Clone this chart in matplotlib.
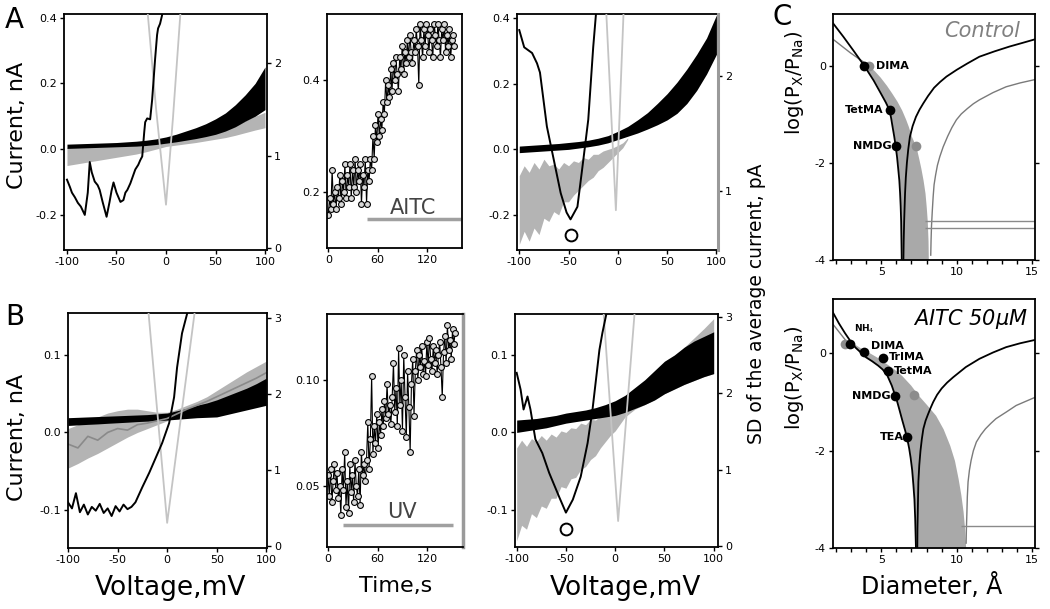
import numpy as np
import matplotlib.pyplot as plt
from matplotlib.ticker import MultipleLocator, FormatStrFormatter

plt.rcParams['font.family'] = ['DejaVu Sans']
plt.rcParams['axes.unicode_minus'] = False

W, H = 1050, 609

# ---------------- data ----------------
volt = [-100, -90, -80, -70, -60, -50, -40, -30, -20, -10, 0,
        10, 20, 30, 40, 50, 60, 70, 80, 90, 100]

# A, left: current bands (nA)
a1_black_hi = [0.015, 0.016, 0.017, 0.018, 0.019, 0.02, 0.022, 0.024, 0.027, 0.031, 0.037,
               0.045, 0.055, 0.065, 0.077, 0.092, 0.11, 0.135, 0.165, 0.2, 0.25]
a1_black_lo = [0.002, 0.003, 0.004, 0.005, 0.006, 0.007, 0.008, 0.009, 0.011, 0.014, 0.018,
               0.022, 0.027, 0.032, 0.038, 0.045, 0.055, 0.068, 0.085, 0.1, 0.12]
a1_gray_hi = [0.004, 0.005, 0.006, 0.007, 0.008, 0.009, 0.01, 0.011, 0.013, 0.016, 0.02,
              0.025, 0.03, 0.035, 0.042, 0.05, 0.06, 0.072, 0.086, 0.1, 0.112]
a1_gray_lo = [-0.05, -0.045, -0.04, -0.035, -0.03, -0.025, -0.02, -0.015, -0.008, 0.0, 0.008,
              0.012, 0.016, 0.02, 0.025, 0.03, 0.035, 0.042, 0.05, 0.058, 0.065]
# A, left: SD traces (pA, right axis)
a1_sd_v = [-100, -97, -95, -92, -89, -86, -82, -79, -77, -75, -72, -69, -67, -64, -62, -60,
           -57, -55, -53, -50, -48, -46, -43, -41, -39, -36, -34, -31, -28, -26, -24, -22,
           -21, -19, -16, -14, -11, -9, -8, -6, -4, -3]
a1_sd = [0.74, 0.66, 0.6, 0.55, 0.49, 0.45, 0.36, 0.6, 0.93, 0.82, 0.72, 0.68, 0.63, 0.5, 0.42, 0.34,
         0.5, 0.62, 0.71, 0.6, 0.55, 0.5, 0.52, 0.6, 0.63, 0.7, 0.76, 0.85, 0.9, 0.95, 0.99, 1.25,
         1.36, 1.4, 1.39, 1.6, 2.04, 2.3, 2.37, 2.42, 2.51, 2.6]
a1_sd2_v = [-19, -10, 0, 7, 15]
a1_sd2 = [2.6, 1.5, 0.47, 1.4, 2.6]

# A, middle: current vs time during AITC
a2_current = [0.16, 0.19, 0.17, 0.24, 0.18, 0.2, 0.17, 0.21, 0.19, 0.23,
              0.18, 0.22, 0.2, 0.25, 0.19, 0.23, 0.21, 0.25, 0.19, 0.24,
              0.21, 0.26, 0.2, 0.24, 0.22, 0.25, 0.18, 0.23, 0.21, 0.26,
              0.18, 0.24, 0.22, 0.26, 0.24, 0.3, 0.26, 0.32, 0.29, 0.34,
              0.3, 0.33, 0.31, 0.36, 0.34, 0.4, 0.36, 0.39, 0.37, 0.42,
              0.38, 0.43, 0.4, 0.44, 0.41, 0.38, 0.44, 0.42, 0.46, 0.41,
              0.45, 0.43, 0.47, 0.44, 0.48, 0.45, 0.43, 0.47, 0.45, 0.49,
              0.46, 0.39, 0.5, 0.47, 0.44, 0.49, 0.46, 0.5, 0.48, 0.45,
              0.49, 0.47, 0.44, 0.5, 0.48, 0.46, 0.5, 0.47, 0.44, 0.49,
              0.47, 0.5, 0.45, 0.48, 0.46, 0.49, 0.44, 0.47, 0.48, 0.46]
a2_time = np.arange(len(a2_current)) * 1.55
aitc_bar_t = [47, 161]
aitc_bar_y = 0.152

# A, right
a3_black_hi = [0.01, 0.012, 0.014, 0.016, 0.018, 0.021, 0.024, 0.028, 0.034, 0.042, 0.055,
               0.07, 0.09, 0.112, 0.14, 0.17, 0.205, 0.245, 0.29, 0.34, 0.41]
a3_black_lo = [-0.01, -0.008, -0.006, -0.004, -0.002, 0.0, 0.004, 0.008, 0.013, 0.02, 0.03,
               0.04, 0.05, 0.062, 0.075, 0.09, 0.11, 0.14, 0.18, 0.23, 0.29]
a3_gray_v = [-100, -95, -90, -85, -80, -75, -70, -65, -60, -55, -50, -45, -40, -35, -30,
             -25, -20, -15, -10, -5, 0, 5, 10]
a3_gray_hi = [-0.08, -0.05, -0.07, -0.04, -0.06, -0.03, -0.05, -0.045, -0.06, -0.04, -0.05,
              -0.035, -0.04, -0.025, -0.03, -0.015, -0.015, -0.005, 0.0, 0.005, 0.012, 0.02, 0.035]
a3_gray_lo = [-0.29, -0.25, -0.28, -0.24, -0.26, -0.21, -0.22, -0.19, -0.2, -0.16, -0.16,
              -0.14, -0.125, -0.11, -0.095, -0.085, -0.065, -0.055, -0.04, -0.025, -0.01, 0.005, 0.03]
a3_sd_v = [-100, -95, -87, -82, -79, -72, -65, -58, -52, -48, -41, -35, -30, -25, -22]
a3_sd = [2.4, 2.25, 2.2, 2.11, 2.03, 1.56, 1.27, 0.98, 0.81, 0.75, 0.86, 1.27, 1.62, 2.25, 2.56]
a3_sd2_v = [-12, -2, 6]
a3_sd2 = [2.6, 0.83, 2.6]
a3_min_v, a3_min_sd = -48, 0.61

# B, left
b1_black_hi = [0.019, 0.0195, 0.02, 0.0205, 0.021, 0.0215, 0.022, 0.0225, 0.023, 0.024, 0.025,
               0.028, 0.031, 0.035, 0.038, 0.042, 0.047, 0.052, 0.057, 0.063, 0.07]
b1_black_lo = [0.009, 0.0097, 0.0104, 0.011, 0.0118, 0.0125, 0.0132, 0.014, 0.0146, 0.0153, 0.016,
               0.017, 0.018, 0.019, 0.0195, 0.02, 0.023, 0.026, 0.029, 0.032, 0.035]
b1_gray_hi = [0.005, 0.01, 0.015, 0.02, 0.025, 0.028, 0.03, 0.03, 0.028, 0.026, 0.026,
              0.03, 0.035, 0.04, 0.046, 0.054, 0.062, 0.07, 0.078, 0.085, 0.092]
b1_gray_lo = [-0.046, -0.04, -0.033, -0.027, -0.02, -0.013, -0.006, 0.0, 0.005, 0.01, 0.015,
              0.02, 0.025, 0.03, 0.034, 0.038, 0.043, 0.048, 0.052, 0.056, 0.06]
b1_mean = [-0.015, -0.02, -0.005, -0.01, 0.0, 0.005, 0.003, 0.01, 0.012, 0.015, 0.018,
           0.024, 0.03, 0.035, 0.04, 0.046, 0.052, 0.058, 0.064, 0.07, 0.077]
b1_sd_v = [-100, -96, -92, -88, -84, -80, -76, -72, -68, -64, -60, -56, -52, -48, -44, -40,
           -36, -32, -25, -18, -12, -5, 2, 7, 10, 15, 21]
b1_sd = [0.58, 0.5, 0.7, 0.45, 0.55, 0.42, 0.52, 0.47, 0.56, 0.44, 0.5, 0.4, 0.53, 0.46, 0.55, 0.49,
         0.52, 0.58, 0.78, 0.97, 1.15, 1.36, 1.62, 1.96, 2.35, 2.8, 3.1]
b1_sd2_v = [-19, 0, 28]
b1_sd2 = [3.1, 0.31, 3.1]

# B, middle: current vs time during UV
b2_current = [0.055, 0.045, 0.058, 0.042, 0.052, 0.06, 0.048, 0.056, 0.044, 0.05,
              0.036, 0.058, 0.048, 0.066, 0.04, 0.052, 0.037, 0.06, 0.047, 0.055,
              0.042, 0.062, 0.05, 0.045, 0.058, 0.041, 0.066, 0.055, 0.06, 0.052,
              0.062, 0.08, 0.058, 0.072, 0.102, 0.065, 0.078, 0.07, 0.084, 0.068,
              0.08, 0.074, 0.086, 0.078, 0.09, 0.082, 0.098, 0.084, 0.088, 0.079,
              0.092, 0.108, 0.085, 0.096, 0.078, 0.115, 0.088, 0.1, 0.076, 0.112,
              0.092, 0.073, 0.104, 0.087, 0.066, 0.098, 0.11, 0.083, 0.104, 0.114,
              0.1, 0.112, 0.106, 0.116, 0.103, 0.109, 0.102, 0.118, 0.107, 0.12,
              0.11, 0.104, 0.116, 0.108, 0.114, 0.103, 0.112, 0.118, 0.106, 0.092,
              0.113, 0.121, 0.108, 0.126, 0.114, 0.119, 0.11, 0.124, 0.117, 0.122]
b2_time = np.arange(len(b2_current)) * 1.55
uv_bar_t = [18, 151]
uv_bar_y = 0.0314

# B, right
b3_black_hi = [0.016, 0.017, 0.018, 0.02, 0.022, 0.025, 0.027, 0.029, 0.032, 0.036, 0.041,
               0.048, 0.058, 0.068, 0.08, 0.092, 0.1, 0.11, 0.118, 0.124, 0.13]
b3_black_lo = [0.0, 0.002, 0.004, 0.006, 0.009, 0.012, 0.014, 0.016, 0.018, 0.02, 0.022,
               0.026, 0.031, 0.036, 0.042, 0.05, 0.056, 0.062, 0.067, 0.072, 0.076]
b3_gray_v = [-100, -95, -90, -85, -80, -75, -70, -65, -60, -55, -50, -45, -40, -35, -30,
             -25, -20, -15, -10, -5, 0, 10, 20, 30, 40, 50, 60, 70, 80, 90, 100]
b3_gray_hi = [-0.02, -0.01, -0.018, -0.008, -0.012, -0.004, -0.01, -0.002, -0.006, 0.002, 0.0,
              0.006, 0.005, 0.012, 0.01, 0.017, 0.016, 0.021, 0.022, 0.026, 0.028,
              0.035, 0.045, 0.058, 0.07, 0.085, 0.097, 0.11, 0.122, 0.134, 0.147]
b3_gray_lo = [-0.14, -0.12, -0.125, -0.105, -0.11, -0.095, -0.098, -0.085, -0.085, -0.07, -0.072,
              -0.06, -0.058, -0.048, -0.044, -0.035, -0.03, -0.02, -0.012, -0.004, 0.002,
              0.02, 0.03, 0.036, 0.042, 0.05, 0.056, 0.062, 0.067, 0.072, 0.076]
b3_sd_v = [-100, -96, -93, -89, -86, -81, -74, -67, -57, -50, -43, -35, -28, -23, -16, -13, -8]
b3_sd = [2.27, 2.05, 1.79, 1.96, 1.79, 1.4, 1.22, 0.96, 0.65, 0.44, 0.61, 0.91, 1.35, 1.79, 2.57, 2.79, 3.1]
b3_sd2_v = [-12, 3, 20]
b3_sd2 = [3.1, 0.33, 3.1]
b3_min_v, b3_min_sd = -50, 0.23

# C, control
c1_black_d = [1.81, 2.5, 3.2, 3.84, 4.5, 5.0, 5.3, 5.55, 5.66, 5.75, 5.86, 5.96, 6.05,
              6.12, 6.2, 6.25, 6.29, 6.32, 6.34, 6.36]
c1_black_p = [0.88, 0.6, 0.3, 0.02, -0.3, -0.58, -0.75, -0.91, -1.08, -1.25, -1.45, -1.66, -1.88,
              -2.1, -2.36, -2.62, -2.9, -3.2, -3.6, -4.0]
c1_gray_d = [1.81, 2.96, 4.2]
c1_gray_p = [0.55, 0.27, 0.0]
c1_shade_p = [0.0, -0.1, -0.23, -0.4, -0.56, -0.73, -0.91, -1.1, -1.25, -1.45, -1.66, -1.9,
              -2.1, -2.35, -2.62, -2.9, -3.2, -3.6, -4.0]
c1_shade_lo = [3.84, 4.1, 4.4, 4.72, 4.97, 5.25, 5.55, 5.68, 5.75, 5.86, 5.96, 6.05,
               6.12, 6.2, 6.25, 6.29, 6.32, 6.34, 6.36]
c1_shade_hi = [4.2, 4.55, 4.93, 5.35, 5.7, 6.05, 6.36, 6.62, 6.8, 7.0, 7.3, 7.48,
               7.62, 7.77, 7.9, 7.98, 8.05, 8.1, 8.12]
c1_fit_d = [6.47, 6.49, 6.52, 6.55, 6.58, 6.63, 6.7, 6.79, 6.9, 7.08, 7.3, 7.54, 7.79, 8.1,
            8.5, 8.9, 9.32, 10.0, 10.7, 11.5, 12.5, 13.5, 14.3, 15.2]
c1_fit_p = [-4.0, -3.6, -3.2, -2.9, -2.62, -2.3, -2.0, -1.72, -1.46, -1.24, -1.05, -0.9, -0.77, -0.62,
            -0.45, -0.33, -0.22, -0.08, 0.05, 0.19, 0.3, 0.4, 0.47, 0.55]
c1_fit2_d = [8.28, 8.3, 8.33, 8.38, 8.44, 8.5, 8.6, 8.72, 8.88, 9.1, 9.4, 9.68, 9.98, 10.3,
             10.7, 11.1, 11.5, 12.4, 13.27, 14.2, 15.2]
c1_fit2_p = [-3.9, -3.6, -3.3, -3.0, -2.69, -2.45, -2.25, -2.05, -1.87, -1.67, -1.45, -1.27, -1.11, -0.99,
             -0.88, -0.78, -0.7, -0.55, -0.43, -0.35, -0.28]
c1_hline_p = [-3.19, -3.35]
c1_ions = ['DIMA', 'TetMA', 'NMDG']
c1_ion_d = [3.84, 5.55, 5.96]
c1_ion_p = [0.0, -0.91, -1.66]
c1_gray_dot_d = [4.2, 7.3]
c1_gray_dot_p = [0.0, -1.66]

# C, AITC 50 uM
c2_black_d = [1.81, 2.2, 2.6, 2.95, 3.3, 3.65, 4.0, 4.4, 4.8, 5.1, 5.4, 5.7, 6.03, 6.2, 6.4,
              6.6, 6.74, 6.85, 6.95, 7.05, 7.13, 7.2, 7.25, 7.3]
c2_black_p = [0.84, 0.62, 0.42, 0.26, 0.12, 0.02, -0.08, -0.16, -0.25, -0.33, -0.45, -0.66, -0.96,
              -1.15, -1.38, -1.6, -1.78, -1.95, -2.15, -2.4, -2.7, -3.0, -3.4, -4.0]
c2_gray_d = [1.81, 2.9]
c2_gray_p = [0.6, 0.17]
c2_shade_p = [0.2, 0.1, 0.0, -0.1, -0.2, -0.31, -0.45, -0.65, -0.86, -1.05, -1.27, -1.55, -1.89,
              -2.2, -2.57, -2.9, -3.25, -3.6, -4.0]
c2_shade_lo = [3.1, 3.37, 3.72, 4.1, 4.58, 5.0, 5.4, 5.68, 5.93, 6.08, 6.26, 6.55, 6.82,
               6.97, 7.07, 7.18, 7.23, 7.27, 7.3]
c2_shade_hi = [3.2, 3.7, 4.3, 4.85, 5.3, 5.81, 6.35, 6.95, 7.46, 8.0, 8.6, 9.1, 9.54,
               9.85, 10.09, 10.27, 10.42, 10.52, 10.59]
c2_fit_d = [7.39, 7.4, 7.42, 7.44, 7.46, 7.52, 7.6, 7.69, 7.79, 7.94, 8.1, 8.27, 8.44, 8.7,
            9.0, 9.36, 9.76, 10.2, 10.6, 11.5, 12.4, 13.27, 14.2, 15.2]
c2_fit_p = [-4.0, -3.6, -3.3, -2.95, -2.64, -2.3, -2.0, -1.76, -1.55, -1.38, -1.25, -1.12, -1.0, -0.85,
            -0.72, -0.6, -0.49, -0.38, -0.28, -0.11, 0.02, 0.13, 0.21, 0.28]
c2_fit2_d = [10.62, 10.64, 10.67, 10.7, 10.75, 10.84, 10.95, 11.1, 11.3, 11.6, 11.9, 12.25,
             12.6, 13.3, 13.93, 14.6, 15.2]
c2_fit2_p = [-3.9, -3.6, -3.3, -2.95, -2.64, -2.4, -2.2, -2.0, -1.82, -1.67, -1.55, -1.44,
             -1.34, -1.2, -1.07, -0.98, -0.9]
c2_hline_p = [-3.55]
c2_ions = ['NH$_4$', 'DIMA', 'TrIMA', 'TetMA', 'NMDG', 'TEA']
c2_ion_d = [2.95, 3.84, 5.11, 5.48, 5.92, 6.74]
c2_ion_p = [0.2, 0.02, -0.1, -0.36, -0.87, -1.72]
c2_gray_dot_d = [2.6, 7.17]
c2_gray_dot_p = [0.2, -0.86]

# ---------------- drawing ----------------
BLACK = '#000000'
BAND_GRAY = '#b4b4b4'
SD_GRAY = '#c4c4c4'
SPINE_GRAY = '#9a9a9a'

fig = plt.figure(figsize=(W / 100, H / 100), dpi=100)


def px_ax(x0, y0, x1, y1):
    return fig.add_axes([x0 / W, 1 - y1 / H, (x1 - x0) / W, (y1 - y0) / H])


def style(ax, right=False):
    for s in ['top', 'left', 'bottom', 'right']:
        ax.spines[s].set_linewidth(1.3)
    ax.spines['right'].set_visible(right)
    ax.tick_params(direction='out', length=3, width=1, labelsize=8, pad=2)


def twin(ax, color=BLACK, lw=1.3):
    tw = ax.twinx()
    for s in ['top', 'left', 'bottom']:
        tw.spines[s].set_visible(False)
    tw.spines['right'].set_color(color)
    tw.spines['right'].set_linewidth(lw)
    tw.tick_params(direction='out', length=3, width=1, labelsize=8, pad=2)
    return tw


def ftext(x, y, s, **kw):
    fig.text(x / W, 1 - y / H, s, **kw)


# A, left
ax = px_ax(64, 14, 267, 250)
style(ax)
ax.fill_between(volt, a1_gray_lo, a1_gray_hi, color=BAND_GRAY, lw=0)
ax.fill_between(volt, a1_black_lo, a1_black_hi, color=BLACK, lw=0)
ax.set_xlim(-103, 102)
ax.set_ylim(-0.307, 0.411)
ax.set_xticks([-100, -50, 0, 50, 100])
ax.set_yticks([-0.2, 0.0, 0.2, 0.4])
ax.yaxis.set_major_formatter(FormatStrFormatter('%.1f'))
tw = twin(ax)
tw.plot(a1_sd2_v, a1_sd2, color=SD_GRAY, lw=1.3)
tw.plot(a1_sd_v, a1_sd, color=BLACK, lw=1.4)
tw.set_ylim(-0.018, 2.525)
tw.set_yticks([0, 1, 2])

# A, middle
ax = px_ax(327, 14, 462, 248)
style(ax, right=True)
ax.plot(a2_time, a2_current, '-o', color=BLACK, lw=0.8, ms=4.2,
        mfc='#d8d8d8', mec=BLACK, mew=0.8)
ax.plot(aitc_bar_t, [aitc_bar_y] * 2, color='#a0a0a0', lw=2.5, solid_capstyle='butt')
ax.text(103, 0.173, 'AITC', fontsize=15, color='#444444', ha='center', va='center')
ax.set_xlim(-1.6, 162.6)
ax.set_ylim(0.101, 0.517)
ax.set_xticks([0, 60, 120])
ax.set_yticks([0.2, 0.4])
ax.yaxis.set_major_formatter(FormatStrFormatter('%.1f'))

# A, right
ax = px_ax(517, 14, 718, 250)
style(ax)
ax.fill_between(a3_gray_v, a3_gray_lo, a3_gray_hi, color=BAND_GRAY, lw=0)
ax.fill_between(volt, a3_black_lo, a3_black_hi, color=BLACK, lw=0)
ax.set_xlim(-102.3, 101.6)
ax.set_ylim(-0.307, 0.413)
ax.set_xticks([-100, -50, 0, 50, 100])
ax.set_yticks([-0.2, 0.0, 0.2, 0.4])
ax.yaxis.set_major_formatter(FormatStrFormatter('%.1f'))
tw = twin(ax, SPINE_GRAY, 2.2)
tw.plot(a3_sd2_v, a3_sd2, color=SD_GRAY, lw=1.3)
tw.plot(a3_sd_v, a3_sd, color=BLACK, lw=1.4)
tw.plot([a3_min_v], [a3_min_sd], 'o', ms=8.5, mfc='white', mec=BLACK, mew=1.4)
tw.set_ylim(0.483, 2.54)
tw.set_yticks([1, 2])

# B, left
ax = px_ax(68, 313, 267, 548)
style(ax)
ax.fill_between(volt, b1_gray_lo, b1_gray_hi, color=BAND_GRAY, lw=0)
ax.plot(volt, b1_mean, color='#8a8a8a', lw=1.2)
ax.fill_between(volt, b1_black_lo, b1_black_hi, color=BLACK, lw=0)
ax.set_xlim(-100, 100.7)
ax.set_ylim(-0.149, 0.154)
ax.set_xticks([-100, -50, 0, 50, 100])
ax.set_yticks([-0.1, 0.0, 0.1])
ax.yaxis.set_major_formatter(FormatStrFormatter('%.1f'))
tw = twin(ax)
tw.plot(b1_sd2_v, b1_sd2, color=SD_GRAY, lw=1.3)
tw.plot(b1_sd_v, b1_sd, color=BLACK, lw=1.4)
tw.set_ylim(-0.02, 3.066)
tw.set_yticks([0, 1, 2, 3])

# B, middle
ax = px_ax(327, 314, 463, 547)
style(ax, right=True)
ax.spines['right'].set_color(SPINE_GRAY)
ax.spines['right'].set_linewidth(2.5)
ax.plot(b2_time, b2_current, '-o', color=BLACK, lw=0.8, ms=4.2,
        mfc='#d8d8d8', mec=BLACK, mew=0.8)
ax.plot(uv_bar_t, [uv_bar_y] * 2, color='#a0a0a0', lw=2.5, solid_capstyle='butt')
ax.text(89, 0.0376, 'UV', fontsize=15, color='#444444', ha='center', va='center')
ax.set_xlim(-1.2, 163)
ax.set_ylim(0.0209, 0.1312)
ax.set_xticks([0, 60, 120])
ax.set_yticks([0.05, 0.10])
ax.yaxis.set_major_formatter(FormatStrFormatter('%.2f'))

# B, right
ax = px_ax(515, 314, 718, 547)
style(ax)
ax.fill_between(b3_gray_v, b3_gray_lo, b3_gray_hi, color=BAND_GRAY, lw=0)
ax.fill_between(volt, b3_black_lo, b3_black_hi, color=BLACK, lw=0)
ax.set_xlim(-101.7, 104.4)
ax.set_ylim(-0.148, 0.153)
ax.set_xticks([-100, -50, 0, 50, 100])
ax.set_yticks([-0.1, 0.0, 0.1])
ax.yaxis.set_major_formatter(FormatStrFormatter('%.1f'))
tw = twin(ax)
tw.plot(b3_sd2_v, b3_sd2, color=SD_GRAY, lw=1.3)
tw.plot(b3_sd_v, b3_sd, color=BLACK, lw=1.4)
tw.plot([b3_min_v], [b3_min_sd], 'o', ms=8.5, mfc='white', mec=BLACK, mew=1.4)
tw.set_ylim(-0.01, 3.04)
tw.set_yticks([0, 1, 2, 3])


# C panels
def selectivity(ax, black_d, black_p, gray_d, gray_p, sh_p, sh_lo, sh_hi,
                fit_d, fit_p, fit2_d, fit2_p, hl_p, hl_x0,
                ions, ion_d, ion_p, gd, gp, offsets, top):
    style(ax, right=True)
    ax.tick_params(right=True, labelright=False, which='both')
    ax.fill_betweenx(sh_p, sh_lo, sh_hi, color='#a9a9a9', lw=0)
    ax.plot(gray_d, gray_p, color='#7a7a7a', lw=1.0)
    ax.plot(fit2_d, fit2_p, color='#7a7a7a', lw=1.0)
    ax.hlines(hl_p, hl_x0, 15.2, color='#8a8a8a', lw=1.0)
    ax.plot(gd, gp, 'o', ms=7, color='#8c8c8c', mec='none')
    ax.plot(black_d, black_p, color=BLACK, lw=1.3)
    ax.plot(fit_d, fit_p, color=BLACK, lw=1.3)
    ax.plot(ion_d, ion_p, 'o', ms=7, color=BLACK, mec='none')
    for name, d, p, off in zip(ions, ion_d, ion_p, offsets):
        fs = 6.5 if 'NH' in name else 8
        ax.annotate(name, (d, p), xytext=off, textcoords='offset points',
                    ha='left' if off[0] > 0 else 'right', va='center',
                    fontsize=fs, fontweight='bold')
    ax.set_xlim(1.81, 15.18)
    ax.set_ylim(-4.0, top)
    ax.xaxis.set_major_locator(MultipleLocator(5))
    ax.xaxis.set_minor_locator(MultipleLocator(1))
    ax.tick_params(which='minor', direction='out', length=3, width=1)
    ax.set_yticks([0, -2, -4])


ax = px_ax(833, 14, 1035, 260)
selectivity(ax, c1_black_d, c1_black_p, c1_gray_d, c1_gray_p,
            c1_shade_p, c1_shade_lo, c1_shade_hi, c1_fit_d, c1_fit_p,
            c1_fit2_d, c1_fit2_p, c1_hline_p, 7.9,
            c1_ions, c1_ion_d, c1_ion_p, c1_gray_dot_d, c1_gray_dot_p,
            [(9, 0), (-4, 0), (-3, 0)], 1.07)
ax.text(0.74, 0.93, 'Control', transform=ax.transAxes, fontsize=15,
        style='italic', color='#808080', ha='center', va='center')

ax = px_ax(833, 299, 1035, 548)
selectivity(ax, c2_black_d, c2_black_p, c2_gray_d, c2_gray_p,
            c2_shade_p, c2_shade_lo, c2_shade_hi, c2_fit_d, c2_fit_p,
            c2_fit2_d, c2_fit2_p, c2_hline_p, 10.3,
            c2_ions, c2_ion_d, c2_ion_p, c2_gray_dot_d, c2_gray_dot_p,
            [(3, 11), (5, 5), (4, 1), (4, 0), (-3, 0), (-2.5, 0)], 1.12)
ax.text(0.68, 0.92, r'AITC 50$\mu$M', transform=ax.transAxes, fontsize=15,
        style='italic', color=BLACK, ha='center', va='center')

# labels
ftext(5, 28, 'A', fontsize=20, ha='left', va='baseline')
ftext(5, 325, 'B', fontsize=20, ha='left', va='baseline')
ftext(772, 25, 'C', fontsize=20, ha='left', va='baseline')
ftext(17, 125, 'Current, nA', fontsize=16, rotation=90, ha='center', va='center')
ftext(17, 437, 'Current, nA', fontsize=16, rotation=90, ha='center', va='center')
ftext(170, 588, 'Voltage,mV', fontsize=19, ha='center', va='center')
ftext(396, 586, 'Time,s', fontsize=16, ha='center', va='center')
ftext(625, 588, 'Voltage,mV', fontsize=19, ha='center', va='center')
ftext(932, 586, 'Diameter, Å', fontsize=17, ha='center', va='center')
ftext(757, 304, 'SD of the average current, pA', fontsize=13.5, rotation=90,
      ha='center', va='center')
ftext(795, 83, r'log(P$_{\rm X}$/P$_{\rm Na}$)', fontsize=14, rotation=90,
      ha='center', va='center')
ftext(795, 378, r'log(P$_{\rm X}$/P$_{\rm Na}$)', fontsize=14, rotation=90,
      ha='center', va='center')

fig.savefig('out.png', dpi=100)
